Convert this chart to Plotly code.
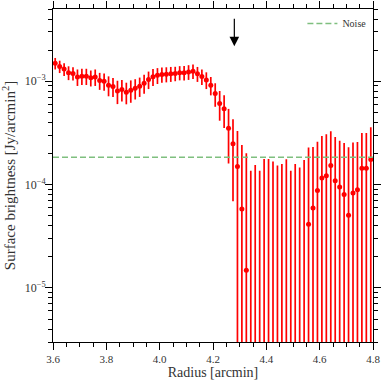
import numpy as np
import plotly.graph_objects as go

# Radius of each annulus [arcmin]
radius = [3.6083, 3.6250, 3.6417, 3.6583, 3.6750, 3.6917, 3.7083, 3.7250, 3.7417, 3.7583,
          3.7750, 3.7917, 3.8083, 3.8250, 3.8417, 3.8583, 3.8750, 3.8917, 3.9083, 3.9250,
          3.9417, 3.9583, 3.9750, 3.9917, 4.0083, 4.0250, 4.0417, 4.0583, 4.0750, 4.0917,
          4.1083, 4.1250, 4.1417, 4.1583, 4.1750, 4.1917, 4.2083, 4.2250, 4.2417, 4.2583,
          4.2750, 4.2917, 4.3083, 4.3250, 4.3417, 4.3583, 4.3750, 4.3917, 4.4083, 4.4250,
          4.4417, 4.4583, 4.4750, 4.4917, 4.5083, 4.5250, 4.5417, 4.5583, 4.5750, 4.5917,
          4.6083, 4.6250, 4.6417, 4.6583, 4.6750, 4.6917, 4.7083, 4.7250, 4.7417, 4.7583,
          4.7750, 4.7917]

# Surface brightness [Jy/arcmin^2]
brightness = [1.49e-3, 1.39e-3, 1.31e-3, 1.21e-3, 1.19e-3, 1.10e-3, 1.12e-3, 1.12e-3, 1.08e-3, 1.10e-3,
              1.015e-3, 1.00e-3, 0.915e-3, 0.889e-3, 0.806e-3, 0.832e-3, 0.783e-3, 0.819e-3, 0.856e-3, 0.895e-3,
              0.957e-3, 1.04e-3, 1.105e-3, 1.14e-3, 1.16e-3, 1.17e-3, 1.18e-3, 1.19e-3, 1.21e-3, 1.21e-3,
              1.23e-3, 1.25e-3, 1.18e-3, 1.11e-3, 1.03e-3, 0.915e-3, 0.761e-3, 0.61e-3, 0.543e-3, 0.35e-3,
              0.249e-3, 0.150e-3, 5.82e-5, 1.48e-5, -4.2e-5, -2.3e-5, -4.2e-5, -1e-6, -1e-6, -1.1e-5,
              -2.5e-5, -2.0e-5, -2e-6, -4.2e-5, -2.0e-5, -3.2e-5, -5e-6, 4.14e-5, 5.95e-5, 8.77e-5,
              1.16e-4, 1.22e-4, 1.53e-4, 1.09e-4, 9.46e-5, 8.03e-5, 5.04e-5, 8.30e-5, 8.91e-5, 1.44e-4,
              1.44e-4, 1.75e-4]

# 1-sigma uncertainty [Jy/arcmin^2]
brightness_err = [1.9e-4, 1.9e-4, 1.85e-4, 1.85e-4, 1.75e-4, 2.0e-4, 2.0e-4, 2.0e-4, 1.9e-4, 2.0e-4,
                  1.9e-4, 1.9e-4, 2.0e-4, 1.85e-4, 2.05e-4, 1.95e-4, 1.85e-4, 2.0e-4, 1.9e-4, 1.9e-4,
                  2.0e-4, 2.0e-4, 2.05e-4, 2.0e-4, 1.95e-4, 1.95e-4, 1.95e-4, 1.9e-4, 1.9e-4, 1.95e-4,
                  2.0e-4, 2.0e-4, 1.95e-4, 1.9e-4, 1.9e-4, 1.85e-4, 1.95e-4, 1.95e-4, 1.9e-4, 1.9e-4,
                  1.8e-4, 1.80e-4, 1.84e-4, 1.86e-4, 1.78e-4, 1.78e-4, 1.78e-4, 1.78e-4, 1.78e-4, 1.78e-4,
                  1.78e-4, 1.78e-4, 1.78e-4, 1.78e-4, 1.78e-4, 1.78e-4, 1.78e-4, 1.87e-4, 1.72e-4, 1.72e-4,
                  1.79e-4, 1.85e-4, 1.75e-4, 1.80e-4, 1.71e-4, 1.73e-4, 1.79e-4, 1.73e-4, 1.69e-4, 1.72e-4,
                  1.72e-4, 1.83e-4]

noise_level = 1.84e-4
arrow_radius = 4.28
arrow_tip = 2.18e-3
arrow_tail = 4.16e-3

x_range = [3.6, 4.8]
y_range = [3e-6, 5e-3]
y_tickvals = [1e-5, 1e-4, 1e-3]
y_ticktext = ["10<sup>\u22125</sup>", "10<sup>\u22124</sup>", "10<sup>\u22123</sup>"]

FONT = "Liberation Serif"

# Log axis cannot place negative values: put them far below the axis,
# keeping the top of their error bars at value + error.
y = np.array(brightness)
e = np.array(brightness_err)
floor = 1e-9
y_plot = np.where(y > 0, y, floor)
err_plus = y + e - y_plot
err_minus = np.where(y > 0, e, y_plot)

minor_vals = [k * 10.0 ** p for p in range(-6, -1) for k in range(2, 10)]

fig = go.Figure()
fig.add_trace(go.Scatter(
    x=radius, y=y_plot, mode="markers",
    marker=dict(color="red", size=5),
    error_y=dict(type="data", array=err_plus, arrayminus=err_minus, symmetric=False,
                 color="red", thickness=1.7, width=0),
    showlegend=False, cliponaxis=True, hoverinfo="skip",
))
fig.add_trace(go.Scatter(
    x=x_range, y=[noise_level, noise_level], mode="lines",
    line=dict(color="#7fbf7f", width=1.5, dash="6px,3px"),
    name="Noise", hoverinfo="skip",
))

fig.add_annotation(
    x=arrow_radius, y=np.log10(arrow_tip), ax=arrow_radius, ay=np.log10(arrow_tail),
    xref="x", yref="y", axref="x", ayref="y", text="", showarrow=True,
    arrowhead=2, arrowsize=1.6, arrowwidth=1.2, arrowcolor="black", standoff=0,
)

axis_common = dict(
    showline=True, linecolor="black", linewidth=1, mirror="ticks",
    ticks="outside", ticklen=7, tickwidth=1, tickcolor="black",
    showgrid=False, zeroline=False, automargin=False,
)

fig.update_xaxes(
    range=x_range, tick0=3.6, dtick=0.2, tickformat=".1f",
    tickfont=dict(family=FONT, size=11, color="#333"),
    minor=dict(ticks="outside", ticklen=4, tickwidth=1, tickcolor="black", dtick=0.05, tick0=3.6, showgrid=False),
    title=dict(text="Radius [arcmin]", font=dict(family=FONT, size=14, color="#333"), standoff=2),
    **axis_common,
)
fig.update_yaxes(
    type="log", range=[np.log10(y_range[0]), np.log10(y_range[1])],
    tickmode="array", tickvals=y_tickvals, ticktext=y_ticktext,
    tickfont=dict(family=FONT, size=12, color="#333"),
    ticklabelstandoff=-3,
    minor=dict(ticks="outside", ticklen=4, tickwidth=1, tickcolor="black", tickmode="array",
               tickvals=minor_vals, showgrid=False),
    title=dict(text="Surface brightness [Jy/arcmin<sup>2</sup>]", font=dict(family=FONT, size=15, color="#333"), standoff=12),
    **axis_common,
)

fig.update_layout(
    width=383, height=383,
    margin=dict(l=53, r=10, t=9, b=41, autoexpand=False),
    paper_bgcolor="white", plot_bgcolor="white",
    font=dict(family=FONT, color="#333"),
    legend=dict(x=0.995, y=1.0, xanchor="right", yanchor="top", bgcolor="rgba(0,0,0,0)",
                font=dict(family=FONT, size=10, color="#333"), itemwidth=30),
)

fig.write_html("out.html", config={"displayModeBar": False},
               post_script="document.body.style.margin='0';document.body.style.padding='0';")
